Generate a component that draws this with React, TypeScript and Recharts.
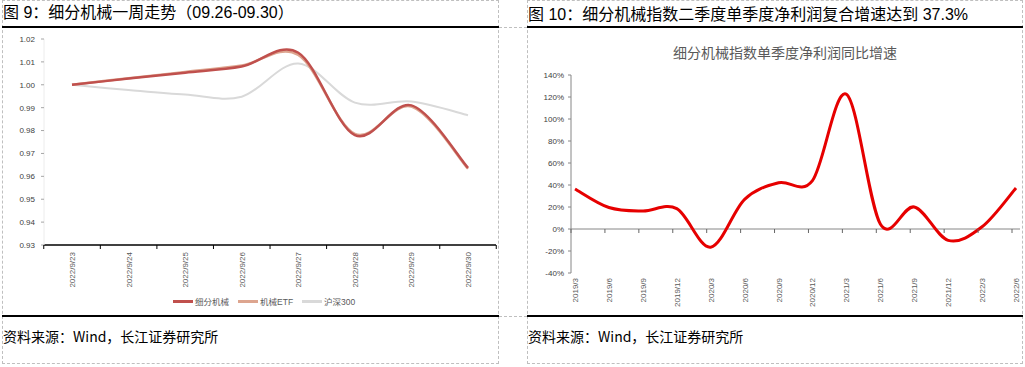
import React from "react";
import { LineChart, Line, XAxis, YAxis, Legend, ReferenceLine } from "recharts";

// 图9 一周走势
const weekDates = ["2022/9/23", "2022/9/24", "2022/9/25", "2022/9/26", "2022/9/27", "2022/9/28", "2022/9/29", "2022/9/30"];
const machinery = [1.0, 1.0027, 1.0053, 1.008, 1.014, 0.978, 0.991, 0.9637];
const machineryEtf = [1.0, 1.0029, 1.0056, 1.0084, 1.013, 0.9785, 0.9905, 0.9633];
const csi300 = [1.0, 0.9977, 0.9957, 0.9948, 1.0093, 0.9922, 0.9927, 0.9867];
const weekTicks = [0.93, 0.94, 0.95, 0.96, 0.97, 0.98, 0.99, 1.0, 1.01, 1.02];

// 图10 单季度净利润同比增速
const quarters = ["2019/3", "2019/6", "2019/9", "2019/12", "2020/3", "2020/6", "2020/9", "2020/12", "2021/3", "2021/6", "2021/9", "2021/12", "2022/3", "2022/6"];
const profitGrowth = [36.4, 19.5, 16.4, 18.5, -16.5, 27, 42, 44, 122.5, 4.5, 20, -10.3, 2, 37.3];
const growthTicks = [-40, -20, 0, 20, 40, 60, 80, 100, 120, 140];

const weekRows = weekDates.map((d, i) => ({
  date: d,
  machinery: machinery[i],
  etf: machineryEtf[i],
  csi: csi300[i],
}));
const growthRows = quarters.map((q, i) => ({ q, v: profitGrowth[i] }));

const weekSeries = [
  { key: "machinery", name: "细分机械", color: "#C0504D", width: 2.5 },
  { key: "etf", name: "机械ETF", color: "#DDA58F", width: 2.5 },
  { key: "csi", name: "沪深300", color: "#D9D9D9", width: 2 },
];

const LATIN = "'Liberation Sans', Arial, 'Noto Sans CJK SC', sans-serif";

// excel style smoothing (catmull-rom through the points)
const excelCurve = (context: any) => {
  let pts: number[][] = [];
  return {
    areaStart() {},
    areaEnd() {},
    lineStart() {
      pts = [];
    },
    point(x: number, y: number) {
      pts.push([+x, +y]);
    },
    lineEnd() {
      if (!pts.length) return;
      context.moveTo(pts[0][0], pts[0][1]);
      for (let i = 0; i < pts.length - 1; i++) {
        const p0 = pts[i - 1] || pts[i];
        const p1 = pts[i];
        const p2 = pts[i + 1];
        const p3 = pts[i + 2] || p2;
        context.bezierCurveTo(
          p1[0] + (p2[0] - p0[0]) / 6,
          p1[1] + (p2[1] - p0[1]) / 6,
          p2[0] - (p3[0] - p1[0]) / 6,
          p2[1] - (p3[1] - p1[1]) / 6,
          p2[0],
          p2[1]
        );
      }
    },
  };
};

const HALF_BAND = 452 / weekDates.length / 2;

const WeekTick = (props: any) => {
  const { x, y, payload, index } = props;
  return (
    <g>
      <line x1={x - HALF_BAND} x2={x - HALF_BAND} y1={y} y2={y + 4} stroke="#000" strokeWidth={1} />
      {index === weekDates.length - 1 && (
        <line x1={x + HALF_BAND} x2={x + HALF_BAND} y1={y} y2={y + 4} stroke="#000" strokeWidth={1} />
      )}
      <g transform={`translate(${x},${y})`}>
        <text transform="rotate(-90)" x={-7} y={3} textAnchor="end" fontSize={8} fill="#595959" fontFamily={LATIN}>
          {payload.value}
        </text>
      </g>
    </g>
  );
};

const ZERO_OFFSET = (198 * 40) / 180;

const QuarterTick = (props: any) => {
  const { x, y, payload } = props;
  return (
    <g>
      <line x1={x - 4} x2={x - 4} y1={y - ZERO_OFFSET} y2={y - ZERO_OFFSET + 4} stroke="#666" strokeWidth={1} />
      <g transform={`translate(${x},${y})`}>
        <text transform="rotate(-90)" x={-5} y={3} textAnchor="end" fontSize={8} fill="#595959" fontFamily={LATIN}>
          {payload.value}
        </text>
      </g>
    </g>
  );
};

const WeekLegend = () => (
  <div style={{ display: "flex", paddingTop: 5, height: 24, alignItems: "flex-start" }}>
    {weekSeries.map((s) => (
      <div key={s.key} style={{ display: "flex", alignItems: "center", marginRight: 9, height: 14 }}>
        <div style={{ width: 20, height: 3, background: s.color, marginRight: 2 }} />
        <span style={{ fontSize: 8.5, color: "#595959", fontFamily: LATIN }}>{s.name}</span>
      </div>
    ))}
  </div>
);

const dashed = "1px dashed #bfbfbf";

export default function App() {
  return (
    <div
      style={{
        position: "absolute",
        left: 0,
        top: 0,
        width: 1025,
        height: 367,
        background: "#fff",
        fontFamily: "'Noto Sans CJK SC', sans-serif",
        overflow: "hidden",
      }}
    >
      {/* table cells */}
      <div style={{ position: "absolute", left: 2, top: 0, width: 497, height: 364, border: dashed, boxSizing: "border-box" }} />
      <div style={{ position: "absolute", left: 527, top: 0, width: 496, height: 364, border: dashed, boxSizing: "border-box" }} />
      <div style={{ position: "absolute", left: 499, top: 27, width: 28, borderTop: dashed }} />
      <div style={{ position: "absolute", left: 499, top: 316, width: 28, borderTop: dashed }} />

      {/* titles */}
      <div style={{ position: "absolute", left: 3, top: 3, fontSize: 16, lineHeight: "20px", color: "#000", whiteSpace: "nowrap", fontFamily: LATIN }}>
        图 9：细分机械一周走势（09.26-09.30）
      </div>
      <div style={{ position: "absolute", left: 528, top: 5, fontSize: 16, lineHeight: "20px", color: "#000", whiteSpace: "nowrap", fontFamily: LATIN }}>
        图 10：细分机械指数二季度单季度净利润复合增速达到 37.3%
      </div>
      <div style={{ position: "absolute", left: 2, top: 26, width: 497, height: 2, background: "#000" }} />
      <div style={{ position: "absolute", left: 527, top: 26, width: 496, height: 2, background: "#000" }} />

      {/* 图9 */}
      <div style={{ position: "absolute", left: 0, top: 28 }}>
        <LineChart width={498} height={290} data={weekRows} margin={{ top: 11, right: 2, left: 8, bottom: 0 }}>
          <XAxis
            dataKey="date"
            interval={0}
            height={44}
            padding={{ left: 28, right: 28 }}
            axisLine={{ stroke: "#000", strokeWidth: 1.5 }}
            tickLine={false}
            tickSize={0}
            tickMargin={0}
            tick={<WeekTick />}
          />
          <YAxis
            width={36}
            domain={[0.93, 1.02]}
            ticks={weekTicks}
            tickFormatter={(v: number) => v.toFixed(2)}
            axisLine={{ stroke: "#ececec" }}
            tickLine={{ stroke: "#a6a6a6" }}
            tickSize={3}
            tickMargin={6}
            tick={{ fontSize: 8, fill: "#404040", fontFamily: LATIN }}
          />
          <Legend
            verticalAlign="bottom"
            content={<WeekLegend />}
            wrapperStyle={{ left: 173, width: 200, height: 29 }}
          />
          {weekSeries
            .slice()
            .reverse()
            .map((s) => (
              <Line
                key={s.key}
                dataKey={s.key}
                name={s.name}
                type={excelCurve as any}
                stroke={s.color}
                strokeWidth={s.width}
                dot={false}
                isAnimationActive={false}
              />
            ))}
        </LineChart>
      </div>

      {/* 图10 */}
      <div style={{ position: "absolute", left: 537, top: 43, width: 496, textAlign: "center", fontSize: 14, lineHeight: "18px", color: "#595959" }}>
        细分机械指数单季度净利润同比增速
      </div>
      <div style={{ position: "absolute", left: 527, top: 62 }}>
        <LineChart width={495} height={250} data={growthRows} margin={{ top: 13, right: 2, left: 4, bottom: 0 }}>
          <XAxis
            dataKey="q"
            interval={0}
            height={39}
            padding={{ left: 4, right: 4 }}
            axisLine={false}
            tickLine={false}
            tickSize={0}
            tickMargin={0}
            tick={<QuarterTick />}
          />
          <YAxis
            width={40}
            domain={[-40, 140]}
            ticks={growthTicks}
            tickFormatter={(v: number) => `${v}%`}
            axisLine={{ stroke: "#868686" }}
            tickLine={{ stroke: "#868686" }}
            tickSize={3}
            tickMargin={4}
            tick={{ fontSize: 8, fill: "#404040", fontFamily: LATIN }}
          />
          <ReferenceLine y={0} stroke="#868686" strokeWidth={1} />
          <Line
            dataKey="v"
            type={excelCurve as any}
            stroke="#E60000"
            strokeWidth={3}
            dot={false}
            isAnimationActive={false}
          />
        </LineChart>
      </div>

      {/* sources */}
      <div style={{ position: "absolute", left: 2, top: 315, width: 497, height: 2, background: "#000" }} />
      <div style={{ position: "absolute", left: 527, top: 315, width: 496, height: 2, background: "#000" }} />
      <div style={{ position: "absolute", left: 3, top: 327, fontSize: 14, lineHeight: "18px", color: "#000", whiteSpace: "nowrap" }}>
        资料来源：Wind，长江证券研究所
      </div>
      <div style={{ position: "absolute", left: 528, top: 327, fontSize: 14, lineHeight: "18px", color: "#000", whiteSpace: "nowrap" }}>
        资料来源：Wind，长江证券研究所
      </div>
    </div>
  );
}
